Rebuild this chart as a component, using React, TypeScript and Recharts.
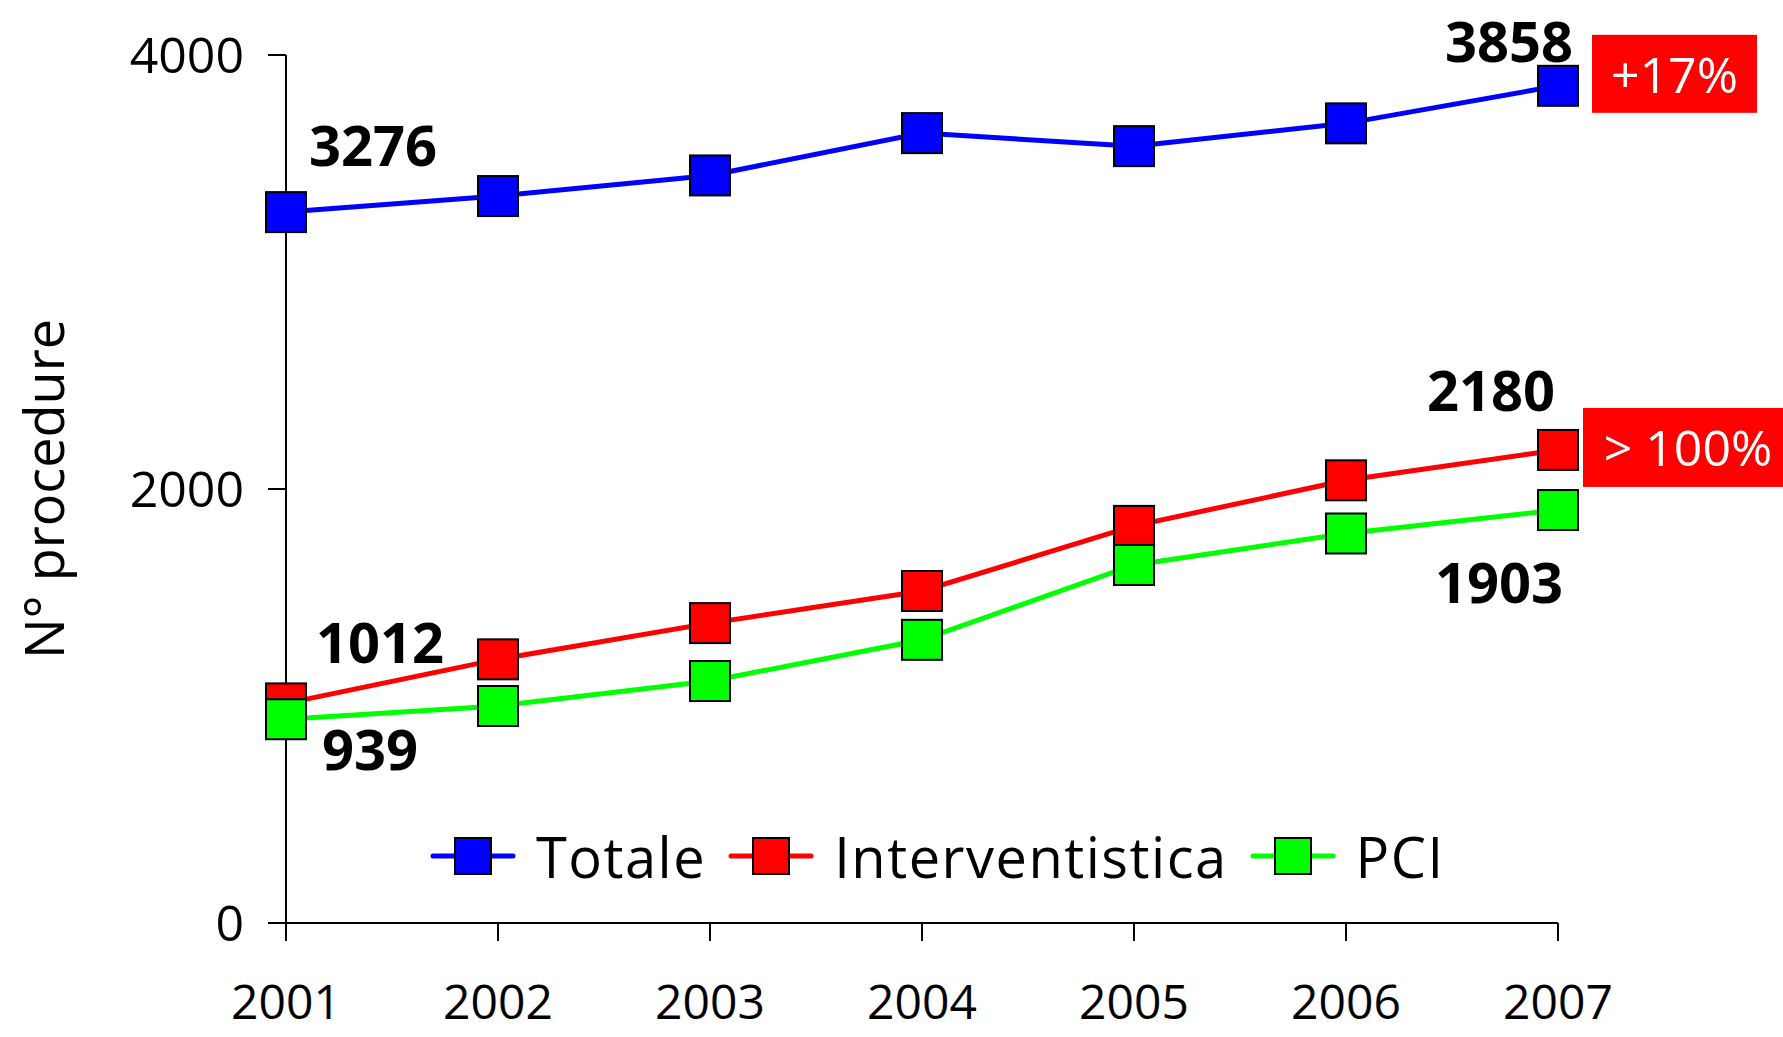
import { LineChart, Line, XAxis, YAxis, Legend, LabelList } from "recharts"

const years = ["2001", "2002", "2003", "2004", "2005", "2006", "2007"]
const totale = [3276, 3350, 3445, 3640, 3580, 3685, 3858]
const interventistica = [1012, 1215, 1382, 1530, 1830, 2040, 2180]
const pci = [939, 1000, 1115, 1305, 1650, 1795, 1903]
const yTicks = [0, 2000, 4000]
const seriesOrder = ["Totale", "Interventistica", "PCI"]

const data = years.map((y, i) => ({
  year: y,
  totale: totale[i],
  interventistica: interventistica[i],
  pci: pci[i],
}))

const FONT = "'Open Sans', sans-serif"

// where the value labels sit relative to their point
const labelOffsets: Record<string, Record<number, [number, number]>> = {
  totale: { 0: [87, -68], 6: [-49, -46] },
  interventistica: { 0: [94, -62], 6: [-67, -61] },
  pci: { 0: [84, 29], 6: [-59, 71] },
}

// red growth boxes beside the last point
const badges: Record<string, { text: string; x: number; y: number; w: number; h: number }> = {
  totale: { text: "+17%", x: 34, y: -51, w: 165, h: 78 },
  interventistica: { text: "> 100%", x: 25, y: -42, w: 210, h: 79 },
}

const squareDot = (color: string) => (props: any) => {
  const { cx, cy, index } = props
  return (
    <rect
      key={`dot-${color}-${index}`}
      x={cx - 20}
      y={cy - 20}
      width={40}
      height={40}
      fill={color}
      stroke="#000"
      strokeWidth={2}
    />
  )
}

const valueLabel = (series: string) => (props: any) => {
  const { x, y, index, value } = props
  const off = labelOffsets[series][index]
  const badge = index === years.length - 1 ? badges[series] : undefined
  return (
    <g key={`lbl-${series}-${index}`}>
      {off && (
        <text
          x={x + off[0]}
          y={y + off[1]}
          textAnchor="middle"
          dominantBaseline="central"
          fontFamily={FONT}
          fontWeight={700}
          fontSize={56}
          fill="#000"
        >
          {value}
        </text>
      )}
      {badge && (
        <g>
          <rect x={x + badge.x} y={y + badge.y} width={badge.w} height={badge.h} fill="#FF0000" />
          <text
            x={x + badge.x + badge.w / 2}
            y={y + badge.y + badge.h / 2}
            textAnchor="middle"
            dominantBaseline="central"
            fontFamily={FONT}
            fontSize={50}
            fill="#fff"
          >
            {badge.text}
          </text>
        </g>
      )}
    </g>
  )
}

const renderLegend = (props: any) => {
  const payload = [...props.payload].sort(
    (a: any, b: any) => seriesOrder.indexOf(a.value) - seriesOrder.indexOf(b.value)
  )
  return (
    <div
      style={{
        display: "flex",
        alignItems: "center",
        fontFamily: FONT,
        fontSize: 56,
        letterSpacing: 1.5,
        color: "#000",
        whiteSpace: "nowrap",
      }}
    >
      {payload.map((p: any) => (
        <div key={p.value} style={{ display: "flex", alignItems: "center", marginRight: 22 }}>
          <svg width={86} height={44} style={{ marginRight: 20 }}>
            <line x1={3} y1={22} x2={83} y2={22} stroke={p.color} strokeWidth={5} strokeLinecap="round" />
            <rect x={25} y={4} width={36} height={36} fill={p.color} stroke="#000" strokeWidth={2} />
          </svg>
          <span>{p.value}</span>
        </div>
      ))}
    </div>
  )
}

export default function App() {
  return (
    <div style={{ position: "absolute", left: 0, top: 0, background: "#fff" }}>
      <LineChart width={1783} height={1037} data={data} margin={{ top: 55, right: 225, left: 0, bottom: 0 }}>
        <XAxis
          dataKey="year"
          axisLine={{ stroke: "#000", strokeWidth: 2 }}
          tickLine={{ stroke: "#000", strokeWidth: 2 }}
          tickSize={18}
          tickMargin={44}
          height={114}
          tick={{ fontSize: 48, fill: "#000", fontFamily: FONT }}
        />
        <YAxis
          domain={[0, 4000]}
          ticks={yTicks}
          width={286}
          axisLine={{ stroke: "#000", strokeWidth: 2 }}
          tickLine={{ stroke: "#000", strokeWidth: 2 }}
          tickSize={18}
          tickMargin={24}
          tick={{ fontSize: 50, fill: "#000", fontFamily: FONT }}
          label={{
            value: "N° procedure",
            angle: -90,
            position: "center",
            dx: -98,
            style: { fontSize: 54, fill: "#000", fontFamily: FONT },
          }}
        />
        <Legend
          verticalAlign="middle"
          align="center"
          content={renderLegend}
          wrapperStyle={{ position: "absolute", top: 818, left: 430, width: "auto" }}
        />
        <Line
          dataKey="totale"
          name="Totale"
          stroke="#0000FF"
          strokeWidth={5}
          dot={squareDot("#0000FF")}
          isAnimationActive={false}
        >
          <LabelList dataKey="totale" content={valueLabel("totale")} />
        </Line>
        <Line
          dataKey="interventistica"
          name="Interventistica"
          stroke="#FF0000"
          strokeWidth={5}
          dot={squareDot("#FF0000")}
          isAnimationActive={false}
        >
          <LabelList dataKey="interventistica" content={valueLabel("interventistica")} />
        </Line>
        <Line
          dataKey="pci"
          name="PCI"
          stroke="#00FF00"
          strokeWidth={5}
          dot={squareDot("#00FF00")}
          isAnimationActive={false}
        >
          <LabelList dataKey="pci" content={valueLabel("pci")} />
        </Line>
      </LineChart>
    </div>
  )
}
